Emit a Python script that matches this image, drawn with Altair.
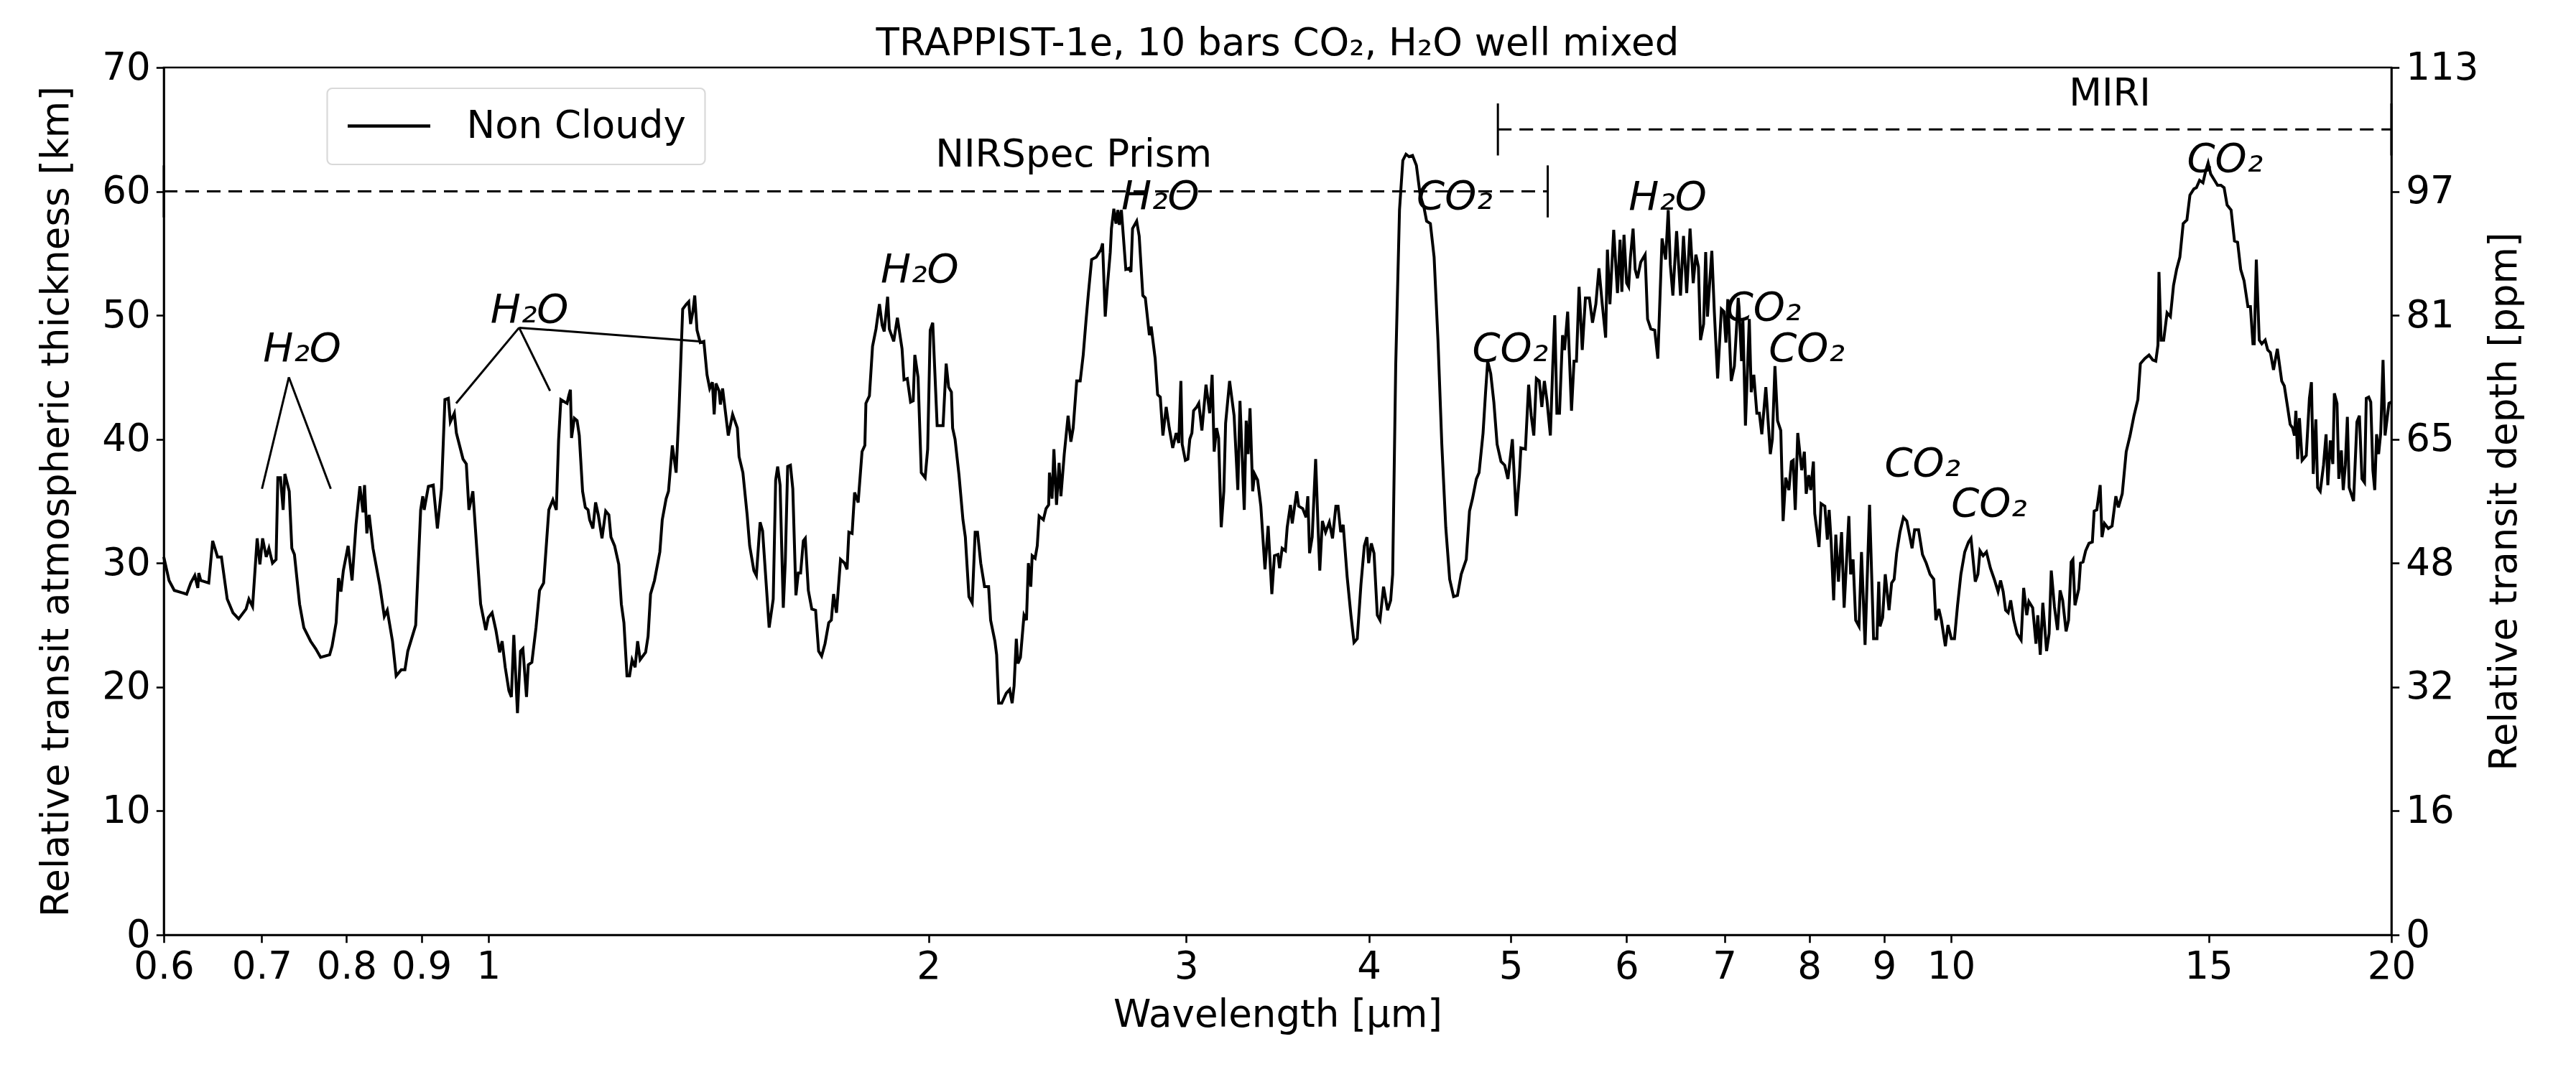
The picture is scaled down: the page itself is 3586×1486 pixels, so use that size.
import altair as alt
import pandas as pd

# ---------------- data ----------------
wavelength_um = [
 0.600,0.605,0.610,0.622,0.626,0.630,0.633,0.634,0.636,0.644,0.648,0.653,0.657,0.663,0.669,0.675,0.683,0.686,0.690,0.695,
 0.698,0.701,0.705,0.708,0.712,0.716,0.718,0.721,0.724,0.726,0.731,0.734,0.737,0.743,0.748,0.756,0.762,0.768,0.779,0.782,
 0.787,0.790,0.793,0.796,0.802,0.807,0.812,0.817,0.821,0.823,0.826,0.829,0.834,0.843,0.849,0.853,0.860,0.865,0.872,0.877,
 0.881,0.892,0.899,0.902,0.904,0.910,0.917,0.923,0.929,0.934,0.939,0.942,0.948,0.951,0.961,0.966,0.970,0.976,0.982,0.988,
 0.996,1.000,1.006,1.012,1.018,1.022,1.027,1.033,1.037,1.041,1.047,1.052,1.056,1.062,1.065,1.071,1.078,1.084,1.091,1.100,
 1.107,1.113,
 1.117,1.121,1.128,1.132,1.135,1.138,1.140,1.145,1.150,1.154,1.160,1.165,1.170,1.173,1.179,1.184,1.189,1.196,1.203,1.209,
 1.213,1.220,1.228,1.233,1.238,1.244,1.249,1.254,1.260,1.265,1.270,1.281,1.286,1.291,1.299,1.310,1.315,1.323,1.328,1.336,
 1.344,1.350,1.358,1.366,1.371,1.375,1.380,1.384,1.389,1.396,1.404,1.411,1.417,1.423,1.427,1.431,1.438,1.441,1.446,1.459,
 1.469,1.480,1.484,1.493,1.503,1.509,1.519,1.525,1.534,1.540,1.556,1.566,1.572,1.577,1.583,1.591,1.596,1.602,1.609,1.615,
 1.623,1.629,1.635,1.642,1.647,1.655,1.664,1.674,1.682,1.690,1.699,1.709,1.716,1.722,1.730,1.741,1.752,1.759,1.764,1.773,
 1.780,1.790,1.801,1.809,1.812,1.822,1.831,1.841,1.851,1.859,1.865,1.875,1.880,1.893,1.904,1.918,1.924,1.934,1.944,1.952,
 1.957,1.967,1.977,1.989,1.997,2.005,2.013,2.027,2.039,
 2.046,2.056,2.064,2.073,2.077,2.085,2.098,2.111,2.119,2.131,2.142,2.152,2.160,2.171,2.184,2.198,2.205,2.220,2.226,2.233,
 2.244,2.260,2.272,2.281,2.288,2.296,2.302,2.311,2.324,2.333,2.340,2.349,2.354,2.365,2.373,2.380,2.396,2.406,2.416,2.419,
 2.429,2.436,2.446,2.456,2.463,2.476,2.491,2.502,2.511,2.525,2.539,2.551,2.562,2.572,2.585,2.604,2.623,2.630,2.641,2.651,
 2.662,2.667,2.677,2.686,2.694,2.700,2.709,2.728,2.742,2.750,2.757,2.775,2.786,2.802,2.813,2.831,2.839,2.857,2.868,2.880,
 2.892,2.907,2.921,2.937,2.953,2.965,2.975,2.981,2.996,3.008,3.017,3.027,3.035,3.050,3.060,3.075,3.095,3.113,3.125,3.135,
 3.147,3.157,3.170,3.183,3.192,3.212,3.235,3.254,3.265,3.287,3.297,3.307,3.317,3.331,3.341,3.357,3.374,3.396,3.413,3.433,
 3.447,3.466,3.475,3.489,3.507,3.517,3.535,3.545,3.570,3.581,3.604,3.623,3.633,3.643,3.658,3.678,3.692,3.702,3.717,3.736,
 3.758,3.777,3.797,
 3.810,3.826,3.841,3.865,3.888,3.907,3.927,3.950,3.971,3.987,3.998,4.015,4.032,4.053,4.070,4.093,4.119,4.139,4.152,4.172,
 4.197,4.219,4.240,4.261,4.284,4.310,4.336,4.362,4.380,4.406,4.432,4.459,4.486,4.514,4.542,4.570,4.598,4.625,4.662,4.686,
 4.708,4.737,4.757,4.787,4.806,4.822,4.845,4.869,4.894,4.924,4.953,4.978,5.013,5.044,5.069,5.081,5.117,5.143,5.164,5.185,
 5.206,5.230,5.251,5.272,5.294,5.322,5.342,5.359,5.377,5.399,5.425,5.442,5.469,5.502,5.524,5.545,5.568,5.596,5.624,5.659,
 5.687,5.717,5.745,5.775,5.806,5.822,5.845,5.880,5.915,5.939,5.956,5.976,6.001,6.020,6.037,6.062,6.082,6.104,6.136,6.178,
 6.202,6.234,6.272,6.303,6.345,6.381,6.407,6.428,6.454,6.492,6.532,6.563,6.596,6.631,6.664,6.692,6.719,6.741,6.774,6.796,
 6.815,6.862,6.889,6.925,6.966,6.994,7.016,7.037,7.075,7.110,7.153,
 7.162,7.191,7.206,7.235,7.279,7.301,7.331,7.366,7.395,7.424,7.471,7.524,7.548,7.579,7.610,7.649,7.677,7.708,7.747,7.778,
 7.800,7.825,7.856,7.905,7.938,7.961,7.993,8.019,8.052,8.069,8.123,8.150,8.198,8.231,8.254,8.280,8.313,8.341,8.376,8.417,
 8.451,8.514,8.538,8.571,8.606,8.651,8.685,8.734,8.796,8.852,8.899,8.924,8.942,8.979,9.016,9.070,9.107,9.143,9.179,9.227,
 9.278,9.327,9.366,9.405,9.443,9.501,9.560,9.617,9.675,9.732,9.764,9.810,9.849,9.911,9.952,10.005,10.054,10.103,10.156,10.218,
 10.278,10.319,10.389,10.432,10.466,10.518,10.573,10.639,10.704,10.768,10.811,10.855,10.897,10.941,10.984,11.038,11.097,11.166,11.211,11.266,
 11.303,11.371,11.431,11.463,11.508,11.554,11.623,11.669,11.709,11.767,11.825,11.873,11.921,11.985,12.032,12.081,12.115,12.154,12.226,12.260,
 12.309,12.360,12.425,12.491,12.527,12.579,12.646,12.682,12.732,12.809,12.885,12.962,13.014,13.093,13.175,13.255,13.337,13.419,13.472,
 13.565,13.657,13.737,13.803,13.850,13.872,13.919,13.975,14.050,14.124,14.193,14.262,14.336,14.411,14.496,14.565,14.655,14.715,14.788,14.867,
 14.927,14.988,15.049,15.139,15.212,15.292,15.370,15.443,15.540,15.623,15.700,15.777,15.860,15.957,16.020,16.084,16.117,16.169,16.244,16.309,
 16.396,16.463,16.531,16.613,16.713,16.829,16.898,16.985,17.054,17.122,17.169,17.209,17.257,17.305,17.378,17.492,17.579,17.635,17.685,17.758,
 17.808,17.881,17.973,18.046,18.096,18.168,18.239,18.283,18.359,18.412,18.486,18.540,18.601,18.661,18.714,18.844,18.944,19.018,19.095,19.172,
 19.225,19.299,19.361,19.426,19.483,19.539,19.602,19.667,19.739,19.802,19.924,19.989,
]

thickness_km = [
 30.5,28.6,27.8,27.5,28.4,29.0,28.0,29.2,28.6,28.4,31.8,30.5,30.5,27.1,26.0,25.5,26.3,27.1,26.5,32.0,
 29.9,32.0,30.5,31.2,30.0,30.3,36.9,36.9,34.3,37.2,35.8,31.2,30.7,26.7,24.8,23.7,23.1,22.4,22.6,23.3,
 25.2,28.8,27.7,29.4,31.4,28.6,33.1,36.2,34.1,36.3,32.4,33.9,31.2,28.2,25.7,26.2,23.7,20.9,21.4,21.4,
 22.9,25.0,34.3,35.4,34.3,36.2,36.3,32.8,36.0,43.2,43.3,41.4,42.1,40.5,38.4,38.0,34.3,35.8,31.2,26.7,
 24.6,25.6,26.0,24.6,22.8,23.7,21.6,19.7,19.2,24.2,17.9,22.9,23.1,19.2,21.8,22.0,24.8,27.8,28.4,34.3,
 35.1,34.3,
 39.9,43.2,43.0,42.9,43.5,44.0,40.1,41.7,41.5,40.3,35.8,34.5,34.3,33.5,32.8,34.9,33.9,32.0,34.2,33.9,
 32.1,31.4,29.9,26.7,25.2,20.9,20.9,22.2,21.6,23.7,22.2,22.8,24.1,27.5,28.6,30.9,33.5,35.2,35.8,39.5,
 37.3,42.2,50.5,50.9,51.1,49.3,50.3,51.6,48.8,47.8,47.9,45.2,44.1,44.6,42.0,44.5,43.9,42.8,44.1,40.3,
 42.0,40.9,38.6,37.3,33.9,31.4,29.4,29.0,33.3,32.6,24.8,27.1,36.7,37.8,36.3,26.4,30.1,37.8,37.9,36.0,
 27.4,29.2,29.2,31.8,32.0,27.8,26.3,26.2,22.9,22.5,23.5,25.2,25.4,27.5,26.0,30.3,30.0,29.5,32.5,32.4,
 35.7,34.9,39.0,39.5,42.9,43.5,47.5,48.9,50.9,49.2,48.7,51.5,48.9,47.9,49.8,47.3,44.8,44.9,43.0,43.1,
 46.8,45.0,37.3,36.9,39.2,48.8,49.4,41.1,41.1,
 41.1,46.1,44.2,43.8,40.9,40.0,37.1,33.5,32.1,27.3,26.8,32.5,32.5,30.0,28.1,28.1,25.4,23.7,22.6,18.7,
 18.7,19.5,19.8,18.7,20.1,23.9,21.9,22.4,25.8,25.4,30.0,28.1,30.6,30.4,31.4,33.8,33.5,34.4,34.7,37.3,
 35.2,39.2,34.7,38.1,35.4,38.8,41.9,39.8,40.9,44.7,44.7,46.8,49.5,51.8,54.5,54.7,55.3,55.8,49.9,52.6,
 55.1,57.0,58.6,57.4,58.5,57.3,58.5,53.7,53.8,53.5,57.0,57.6,56.4,51.6,51.4,48.4,49.1,46.5,43.6,43.4,
 40.3,42.6,40.9,39.3,40.5,39.7,44.7,39.6,38.3,38.4,40.0,40.5,42.3,42.6,42.9,40.7,44.4,42.1,45.2,39.0,
 40.9,40.1,32.9,35.8,41.3,44.7,41.9,35.9,43.1,34.3,41.5,38.8,42.5,35.8,37.2,36.7,34.6,29.5,33.0,27.5,
 30.6,30.7,29.6,31.2,31.0,32.9,34.7,33.2,35.8,34.6,34.4,33.7,35.4,30.8,32.1,38.4,32.9,29.4,33.4,32.5,
 33.3,32.0,34.6,
 34.6,32.5,33.1,28.9,25.8,23.6,23.9,28.3,31.4,32.1,30.0,31.6,30.8,25.8,25.4,28.1,26.2,27.0,29.1,45.9,
 58.5,62.5,63.0,62.8,62.9,62.1,59.7,58.7,57.6,57.4,54.7,48.0,39.6,32.9,28.7,27.3,27.4,29.1,30.3,34.2,
 35.2,36.8,37.3,40.5,43.8,46.3,45.3,43.0,39.6,38.2,37.9,36.8,40.0,33.8,37.1,39.3,39.2,44.4,41.9,40.3,
 44.9,44.7,42.6,44.7,43.1,40.3,45.9,50.0,42.1,42.1,48.4,47.2,50.3,42.3,46.3,46.3,52.3,47.2,51.4,51.4,
 49.4,50.9,53.8,50.9,48.2,55.3,50.9,56.9,51.8,56.1,51.9,56.5,52.6,52.3,54.7,57.0,53.7,53.0,54.3,54.9,
 49.7,48.9,48.8,46.5,56.2,54.5,58.5,54.1,51.6,56.8,51.6,56.4,51.8,57.0,52.6,54.9,53.9,48.0,49.3,55.1,
 49.9,55.2,50.3,44.9,50.5,50.3,47.8,51.3,44.7,45.9,51.4,
 50.7,46.3,49.7,41.1,49.7,43.8,45.2,42.1,42.1,40.4,44.2,38.8,40.0,45.9,41.5,40.7,33.4,36.9,35.9,38.2,
 38.3,34.3,40.5,37.5,39.0,35.6,37.1,35.9,38.2,34.0,31.3,34.8,34.6,31.9,34.3,31.7,27.0,32.3,28.5,32.5,
 26.4,33.8,29.1,30.3,25.4,24.9,30.9,23.4,34.7,23.9,23.9,28.5,24.9,25.6,29.1,26.2,28.4,28.7,30.8,32.5,
 33.7,33.4,32.3,31.2,32.7,32.7,30.7,30.0,29.1,28.7,25.4,26.3,25.4,23.3,25.0,23.9,23.9,26.6,29.1,30.9,
 31.7,32.0,28.5,29.1,31.0,30.6,30.9,29.6,28.7,27.7,28.6,27.7,26.2,26.0,27.0,25.4,24.3,23.8,28.0,25.8,
 26.9,26.4,23.5,25.8,22.6,26.8,22.9,24.3,29.4,26.5,24.6,27.8,27.0,24.5,25.4,30.1,30.3,26.6,27.9,30.0,
 30.1,31.0,31.6,31.7,34.2,34.3,36.3,32.1,33.2,32.8,33.0,35.4,34.5,35.6,39.0,40.3,41.9,43.2,46.1,
 46.5,46.8,46.4,46.3,47.6,53.5,48.0,48.0,50.2,49.9,52.4,53.7,54.7,57.4,57.7,59.7,60.2,60.3,60.9,60.7,
 61.6,62.3,61.4,60.9,60.5,60.5,60.3,58.9,58.5,56.0,55.9,53.7,52.8,50.7,50.7,47.7,47.7,54.5,48.0,47.7,
 48.0,47.2,47.0,45.6,47.3,44.7,44.3,42.6,41.2,40.9,40.3,42.3,38.4,41.7,38.3,38.7,43.3,44.6,37.2,41.6,
 36.1,35.8,37.9,40.4,36.3,39.9,38.0,43.7,42.9,36.8,39.1,35.9,37.9,41.8,36.1,35.0,41.4,41.9,36.8,36.5,
 43.3,43.4,43.0,37.5,35.9,40.4,38.8,40.5,46.4,40.3,42.9,43.0,
]

series_name = "Non Cloudy"
chart_title = "TRAPPIST-1e, 10 bars CO₂, H₂O well mixed"
title_x = [3.464]      # centre of the log axis
title_y = [70.98]      # baseline just above the frame

x_ticks = [0.6, 0.7, 0.8, 0.9, 1, 2, 3, 4, 5, 6, 7, 8, 9, 10, 15, 20]
km_ticks = [0, 10, 20, 30, 40, 50, 60, 70]
ppm_ticks = [0, 16.14, 32.29, 48.43, 64.57, 80.71, 96.86, 113]

# molecule labels (italic)
mol_label = ["H₂O", "H₂O", "H₂O", "H₂O", "CO₂", "H₂O", "CO₂", "CO₂", "CO₂", "CO₂", "CO₂", "CO₂"]
mol_x = [0.746, 1.067, 1.972, 2.880, 4.577, 6.402, 4.996, 7.44, 7.967, 9.56, 10.617, 15.39]
mol_y = [46.3, 49.4, 52.7, 58.6, 58.6, 58.5, 46.3, 49.6, 46.3, 37.0, 33.8, 61.6]

# pointer lines for the H2O labels
ptr_x = [0.7306, 0.7306, 1.0497, 1.0497, 1.0497]
ptr_y = [45.0, 45.0, 49.0, 49.0, 49.0]
ptr_x2 = [0.7003, 0.7804, 0.9506, 1.1021, 1.396]
ptr_y2 = [36.0, 36.0, 42.9, 43.9, 47.9]

# instrument ranges
inst_name = ["NIRSpec Prism", "MIRI"]
inst_start = [0.6, 4.9]
inst_end = [5.3, 20.0]
inst_level = [60.0, 65.0]
inst_label_x = [2.513, 12.84]
inst_label_y = [62.0, 66.95]
bar_x = [0.6, 5.3, 4.9, 20.0]
bar_lo = [57.9, 57.9, 62.9, 62.9]
bar_hi = [62.1, 62.1, 67.1, 67.1]

# ---------------- tables ----------------
spec = pd.DataFrame({"wl": wavelength_um, "km": thickness_km, "series": series_name})
mols = pd.DataFrame({"label": mol_label, "x": mol_x, "y": mol_y})
ptrs = pd.DataFrame({"x": ptr_x, "y": ptr_y, "x2": ptr_x2, "y2": ptr_y2})
inst = pd.DataFrame({"name": inst_name, "x": inst_start, "x2": inst_end, "y": inst_level,
                     "lx": inst_label_x, "ly": inst_label_y})
bars = pd.DataFrame({"x": bar_x, "y": bar_lo, "y2": bar_hi})
ttl = pd.DataFrame({"x": title_x, "y": title_y, "t": [chart_title]})
right = pd.DataFrame({"x": [0.6, 20.0], "ppm": [0.0, 113.0]})

FONT = "DejaVu Sans"
FS = 53
LW = 4
xscale = alt.Scale(type="log", domain=[0.6, 20], nice=False)
yscale = alt.Scale(domain=[0, 70], nice=False, zero=False)

x_axis = alt.Axis(values=x_ticks, format="~g", title="Wavelength [μm]", labelFlush=False,
                  labelOverlap=False, labelPadding=8, titlePadding=14, grid=False)
y_axis = alt.Axis(values=km_ticks, title="Relative transit atmospheric thickness [km]",
                  labelFlush=False, labelPadding=8, titlePadding=36, titleAngle=270,
                  titleBaseline="bottom", titleLimit=3000, grid=False)

line = alt.Chart(spec).mark_line(strokeWidth=LW, interpolate="linear").encode(
    x=alt.X("wl:Q", scale=xscale, axis=x_axis),
    y=alt.Y("km:Q", scale=yscale, axis=y_axis),
    color=alt.Color("series:N", scale=alt.Scale(range=["black"]),
                    legend=alt.Legend(title=None, orient="none", legendX=227.5, legendY=29,
                                      symbolType="M-1.2,0H4.55", symbolSize=1600,
                                      symbolStrokeWidth=4.3, symbolStrokeColor="black",
                                      symbolFillColor="transparent",
                                      labelFontSize=FS, labelFont=FONT, labelOffset=115,
                                      labelLimit=2000,
                                      padding=26, strokeColor="#d9d9d9",
                                      fillColor="white", cornerRadius=7, labelColor="black")),
    order=alt.Order("wl:Q"),
)

mol_text = alt.Chart(mols).mark_text(font=FONT, fontSize=56, fontStyle="italic",
                                     align="center", baseline="alphabetic", color="black").encode(
    x=alt.X("x:Q", scale=xscale), y=alt.Y("y:Q", scale=yscale), text="label:N")

title_text = alt.Chart(ttl).mark_text(font=FONT, fontSize=FS, align="center",
                                      baseline="alphabetic", color="black").encode(
    x=alt.X("x:Q", scale=xscale), y=alt.Y("y:Q", scale=yscale), text="t:N")

ptr_rule = alt.Chart(ptrs).mark_rule(strokeWidth=3, color="black").encode(
    x=alt.X("x:Q", scale=xscale), y=alt.Y("y:Q", scale=yscale), x2="x2:Q", y2="y2:Q")

inst_rule = alt.Chart(inst).mark_rule(strokeWidth=3, color="black", strokeDash=[19, 11]).encode(
    x=alt.X("x:Q", scale=xscale), x2="x2:Q", y=alt.Y("y:Q", scale=yscale))

inst_text = alt.Chart(inst).mark_text(font=FONT, fontSize=FS, align="center",
                                      baseline="alphabetic", color="black").encode(
    x=alt.X("lx:Q", scale=xscale), y=alt.Y("ly:Q", scale=yscale), text="name:N")

bar_rule = alt.Chart(bars).mark_rule(strokeWidth=3, color="black").encode(
    x=alt.X("x:Q", scale=xscale), y=alt.Y("y:Q", scale=yscale), y2="y2:Q")

main = alt.layer(inst_rule, bar_rule, ptr_rule, line, mol_text, inst_text, title_text)

right_axis = alt.Chart(right).mark_point(opacity=0, size=1).encode(
    x=alt.X("x:Q", scale=xscale),
    y=alt.Y("ppm:Q", scale=alt.Scale(domain=[0, 113], nice=False, zero=False),
            axis=alt.Axis(orient="right", values=ppm_ticks, format=".0f",
                          title="Relative transit depth [ppm]", labelFlush=False,
                          labelPadding=9, titlePadding=11, titleAngle=270,
                          titleBaseline="top", titleLimit=3000, grid=False)),
)

chart = alt.layer(main, right_axis).resolve_scale(y="independent").properties(
    width=3101, height=1208,
    background="white",
    autosize=alt.AutoSizeParams(type="none"),
    padding={"left": 220, "top": 86, "right": 240, "bottom": 170},
).configure_view(stroke="black", strokeWidth=2.6).configure_axis(
    labelFont=FONT, titleFont=FONT, labelFontSize=FS, titleFontSize=FS,
    titleFontWeight="normal", labelColor="black", titleColor="black",
    domainColor="black", tickColor="black", domainWidth=2.6, tickWidth=2.6, tickSize=10.7,
).configure_legend(strokeWidth=2.2)

chart.save("out.html", embed_options={"renderer": "svg", "actions": False})
